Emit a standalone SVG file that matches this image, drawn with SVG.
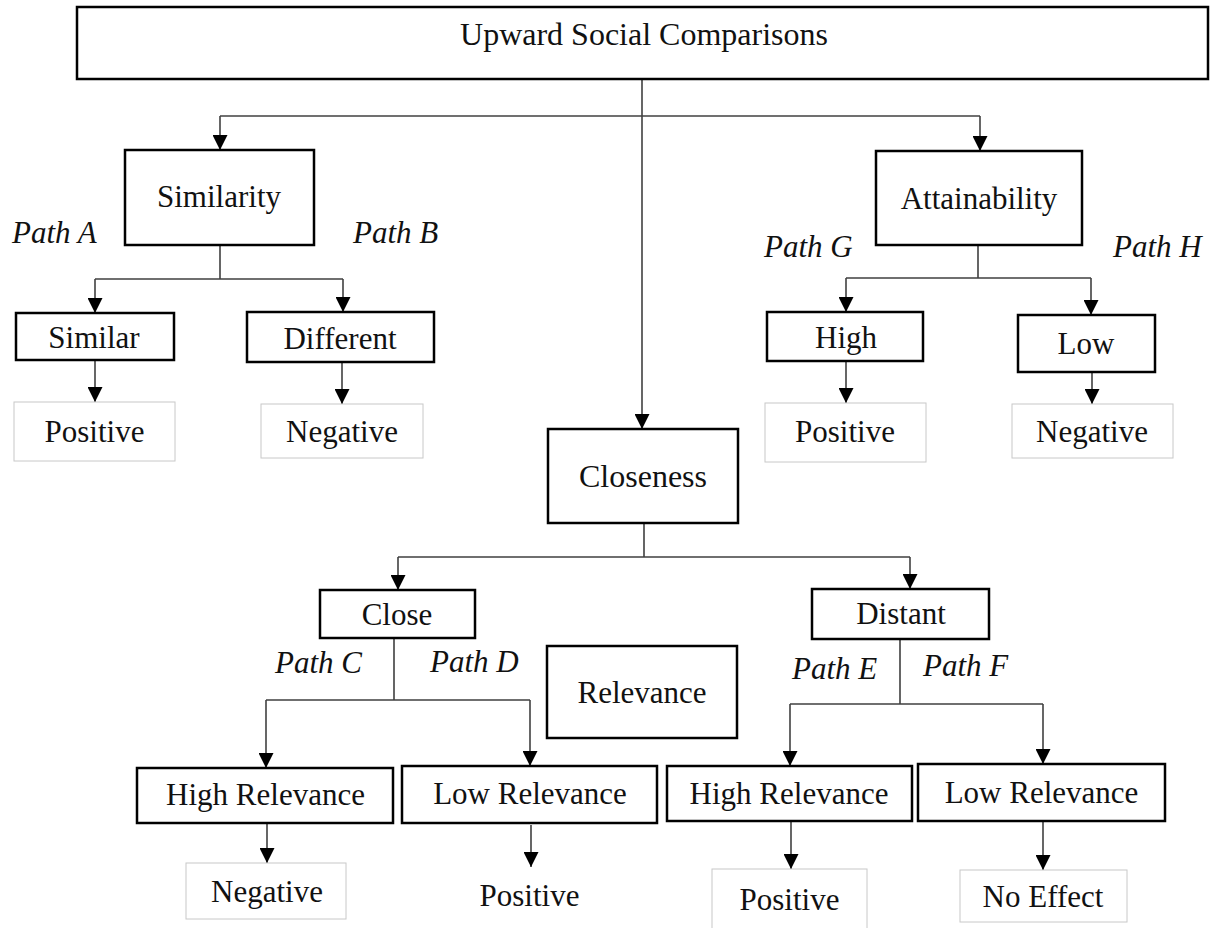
<svg xmlns="http://www.w3.org/2000/svg" width="1226" height="928" viewBox="0 0 1226 928">
<defs>
<style>
.box{fill:#fff;stroke:#000;stroke-width:2.5}
.out{fill:#fff;stroke:#c8c8c8;stroke-width:1}
.t{font-family:"Liberation Serif","Times New Roman",serif;font-size:31px;fill:#111;text-anchor:middle}
.p{font-family:"Liberation Serif","Times New Roman",serif;font-size:31px;font-style:italic;fill:#111}
.c{fill:none;stroke:#404040;stroke-width:1.6}
</style>
<marker id="ah" markerUnits="userSpaceOnUse" markerWidth="15" markerHeight="15" refX="15" refY="7.5" orient="auto">
<path d="M0,0 L15,7.5 L0,15 z" fill="#000"/>
</marker>
</defs>
<rect width="1226" height="928" fill="#fff"/>

<g id="connectors">
<path class="c" d="M642,79 V429" marker-end="url(#ah)"/>
<path class="c" d="M220,116 H980"/>
<path class="c" d="M220,116 V150" marker-end="url(#ah)"/>
<path class="c" d="M980,116 V151" marker-end="url(#ah)"/>
<path class="c" d="M220,245 V279 M95,279 H343"/>
<path class="c" d="M95,279 V313" marker-end="url(#ah)"/>
<path class="c" d="M343,279 V312" marker-end="url(#ah)"/>
<path class="c" d="M95,360 V402" marker-end="url(#ah)"/>
<path class="c" d="M342,362 V404" marker-end="url(#ah)"/>
<path class="c" d="M978,245 V278 M846,278 H1091"/>
<path class="c" d="M846,278 V312" marker-end="url(#ah)"/>
<path class="c" d="M1091,278 V315" marker-end="url(#ah)"/>
<path class="c" d="M846,361 V403" marker-end="url(#ah)"/>
<path class="c" d="M1092,362 V404" marker-end="url(#ah)"/>
<path class="c" d="M644,523 V557 M398,557 H910"/>
<path class="c" d="M398,557 V590" marker-end="url(#ah)"/>
<path class="c" d="M910,557 V589" marker-end="url(#ah)"/>
<path class="c" d="M394,633 V700 M266,700 H530"/>
<path class="c" d="M266,700 V768" marker-end="url(#ah)"/>
<path class="c" d="M530,700 V766" marker-end="url(#ah)"/>
<path class="c" d="M267,823 V863" marker-end="url(#ah)"/>
<path class="c" d="M531,825 V867" marker-end="url(#ah)"/>
<path class="c" d="M900,639 V704 M790,704 H1043"/>
<path class="c" d="M790,704 V766" marker-end="url(#ah)"/>
<path class="c" d="M1043,704 V764" marker-end="url(#ah)"/>
<path class="c" d="M791,821 V869" marker-end="url(#ah)"/>
<path class="c" d="M1043,821 V870" marker-end="url(#ah)"/>
</g>

<g id="root"><rect class="box" x="77" y="7" width="1131" height="72"/><text class="t" x="644" y="45" style="font-size:32px">Upward Social Comparisons</text></g>

<g id="similarity"><rect class="box" x="125" y="150" width="189" height="95"/><text class="t" x="219" y="207">Similarity</text></g>
<g id="pathA"><text class="p" x="12" y="243">Path A</text></g>
<g id="pathB"><text class="p" x="353" y="243">Path B</text></g>
<g id="similar"><rect class="box" x="16" y="313" width="158" height="47"/><text class="t" x="94" y="348">Similar</text></g>
<g id="different"><rect class="box" x="247" y="312" width="187" height="50"/><text class="t" x="340" y="349">Different</text></g>
<g id="posA"><rect class="out" x="14" y="402" width="161" height="59"/><text class="t" x="94.5" y="442">Positive</text></g>
<g id="negB"><rect class="out" x="261" y="404" width="162" height="54"/><text class="t" x="342" y="442">Negative</text></g>

<g id="attainability"><rect class="box" x="876" y="151" width="206" height="94"/><text class="t" x="979" y="209">Attainability</text></g>
<g id="pathG"><text class="p" x="764" y="257">Path G</text></g>
<g id="pathH"><text class="p" x="1113" y="257">Path H</text></g>
<g id="high"><rect class="box" x="767" y="312" width="156" height="49"/><text class="t" x="846" y="348">High</text></g>
<g id="low"><rect class="box" x="1018" y="315" width="137" height="57"/><text class="t" x="1086" y="354">Low</text></g>
<g id="posG"><rect class="out" x="765" y="403" width="161" height="59"/><text class="t" x="845" y="442">Positive</text></g>
<g id="negH"><rect class="out" x="1012" y="404" width="161" height="54"/><text class="t" x="1092" y="442">Negative</text></g>

<g id="closeness"><rect class="box" x="548" y="429" width="190" height="94"/><text class="t" x="643" y="487" style="font-size:32px">Closeness</text></g>
<g id="close"><rect class="box" x="320" y="590" width="155" height="48"/><text class="t" x="397" y="625">Close</text></g>
<g id="pathC"><text class="p" x="275" y="673">Path C</text></g>
<g id="pathD"><text class="p" x="430" y="672">Path D</text></g>
<g id="relevance"><rect class="box" x="547" y="646" width="190" height="92"/><text class="t" x="642" y="703">Relevance</text></g>
<g id="distant"><rect class="box" x="812" y="589" width="177" height="50"/><text class="t" x="901" y="624">Distant</text></g>
<g id="pathE"><text class="p" x="792" y="679">Path E</text></g>
<g id="pathF"><text class="p" x="923" y="676">Path F</text></g>

<g id="highRelC"><rect class="box" x="137" y="768" width="256" height="55"/><text class="t" x="265.5" y="805">High Relevance</text></g>
<g id="lowRelD"><rect class="box" x="402" y="766" width="255" height="57"/><text class="t" x="530" y="804">Low Relevance</text></g>
<g id="negC"><rect class="out" x="186" y="863" width="160" height="56"/><text class="t" x="267" y="902">Negative</text></g>
<g id="posD"><text class="t" x="529.5" y="906">Positive</text></g>
<g id="highRelE"><rect class="box" x="667" y="766" width="245" height="55"/><text class="t" x="789" y="804">High Relevance</text></g>
<g id="lowRelF"><rect class="box" x="918" y="764" width="247" height="57"/><text class="t" x="1041.5" y="803">Low Relevance</text></g>
<g id="posE"><rect class="out" x="712" y="869" width="155" height="70"/><text class="t" x="789.5" y="910">Positive</text></g>
<g id="noEffect"><rect class="out" x="960" y="870" width="167" height="52"/><text class="t" x="1043" y="907">No Effect</text></g>
</svg>
